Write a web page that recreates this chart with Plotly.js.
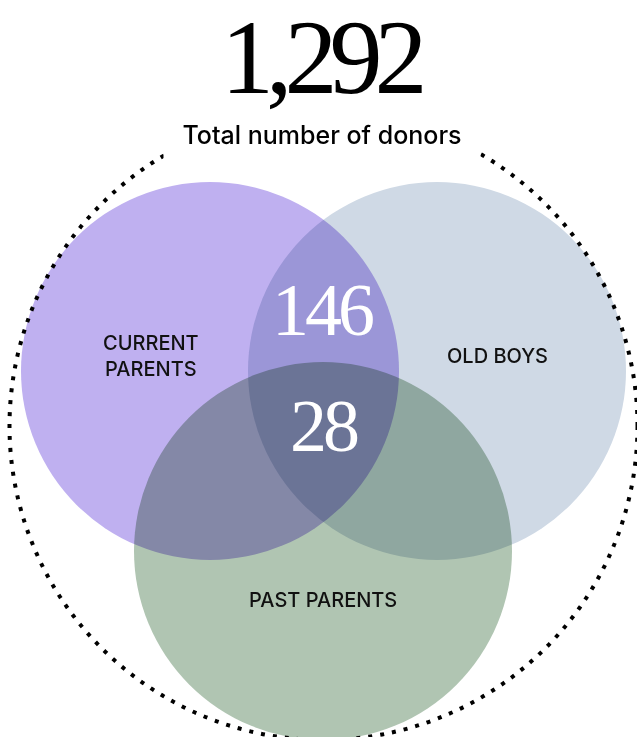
<!DOCTYPE html>
<html>
<head>
<meta charset="utf-8">
<script src="https://cdn.plot.ly/plotly-3.0.1.min.js"></script>
<style>
  html, body { margin: 0; padding: 0; background: #ffffff; }
  #chart { width: 637px; height: 737px; }
  .shapelayer * { mix-blend-mode: multiply; }
</style>
</head>
<body>
<div id="chart"></div>
<script>
// ---- data ----
const totalDonors = 1292;
const totalLabel = ['Total number of donors'];
const setNames = ['CURRENT<br>PARENTS', 'OLD BOYS', 'PAST PARENTS'];
const overlapNames = ['Current parents & Old boys', 'All three groups'];
const overlapCounts = [146, 28];

// ---- styling / geometry (pixel space) ----
const setColors = ['#bfb0f0', '#cfd9e5', '#b0c5b2'];
const R = 189;
const setCenters = [[210, 371], [437, 371], [323, 551]];
const setLabelPos = [[150.5, 356], [497, 356], [323, 600]];
const overlapPos = [[322.5, 310], [323.5, 426]];
const outer = { cx: 323.5, cy: 426, r: 314 };

const shapes = [];
shapes.push({
  type: 'circle', xref: 'x', yref: 'y', layer: 'below',
  x0: outer.cx - outer.r, x1: outer.cx + outer.r,
  y0: outer.cy - outer.r, y1: outer.cy + outer.r,
  line: { color: '#000000', width: 4, dash: '4px,8px' },
  fillcolor: 'rgba(0,0,0,0)'
});
setCenters.forEach((c, i) => {
  shapes.push({
    type: 'circle', xref: 'x', yref: 'y', layer: 'above',
    x0: c[0] - R, x1: c[0] + R, y0: c[1] - R, y1: c[1] + R,
    line: { width: 0 }, fillcolor: setColors[i]
  });
});

const serif = '"Liberation Serif", "Times New Roman", serif';
const sans = 'Inter, "Open Sans", sans-serif';

const annotations = [];
// subtitle first (white box hides the dotted ring behind it)
annotations.push({
  xref: 'x', yref: 'y', x: 322, y: 135, showarrow: false,
  xanchor: 'center', yanchor: 'middle', align: 'center',
  width: 316, height: 54, borderpad: 0, bgcolor: '#ffffff',
  text: totalLabel[0],
  font: { family: sans, size: 25, color: '#000000', weight: 500 }
});
annotations.push({
  xref: 'x', yref: 'y', x: 322, y: 57, showarrow: false,
  xanchor: 'center', yanchor: 'middle',
  text: '<span style="letter-spacing:-8px">' + totalDonors.toLocaleString('en-US') + '</span>',
  font: { family: serif, size: 106, color: '#000000' }
});
setNames.forEach((n, i) => {
  annotations.push({
    xref: 'x', yref: 'y', x: setLabelPos[i][0], y: setLabelPos[i][1], showarrow: false,
    xanchor: 'center', yanchor: 'middle', align: 'center',
    text: n,
    font: { family: sans, size: 20, color: '#111111', weight: 500 }
  });
});
overlapCounts.forEach((v, i) => {
  annotations.push({
    xref: 'x', yref: 'y', x: overlapPos[i][0], y: overlapPos[i][1], showarrow: false,
    xanchor: 'center', yanchor: 'middle',
    text: '<span style="letter-spacing:-4px">' + String(v) + '</span>',
    font: { family: serif, size: 74, color: '#ffffff' },
    hovertext: overlapNames[i]
  });
});

const layout = {
  width: 637, height: 737,
  margin: { l: 0, r: 0, t: 0, b: 0, pad: 0 },
  paper_bgcolor: '#ffffff', plot_bgcolor: '#ffffff',
  showlegend: false,
  xaxis: { range: [0, 637], autorange: false, visible: false, fixedrange: true },
  yaxis: { range: [737, 0], autorange: false, visible: false, fixedrange: true },
  shapes: shapes,
  annotations: annotations
};

Plotly.newPlot('chart', [], layout, { displayModeBar: false, staticPlot: true });
</script>
</body>
</html>
